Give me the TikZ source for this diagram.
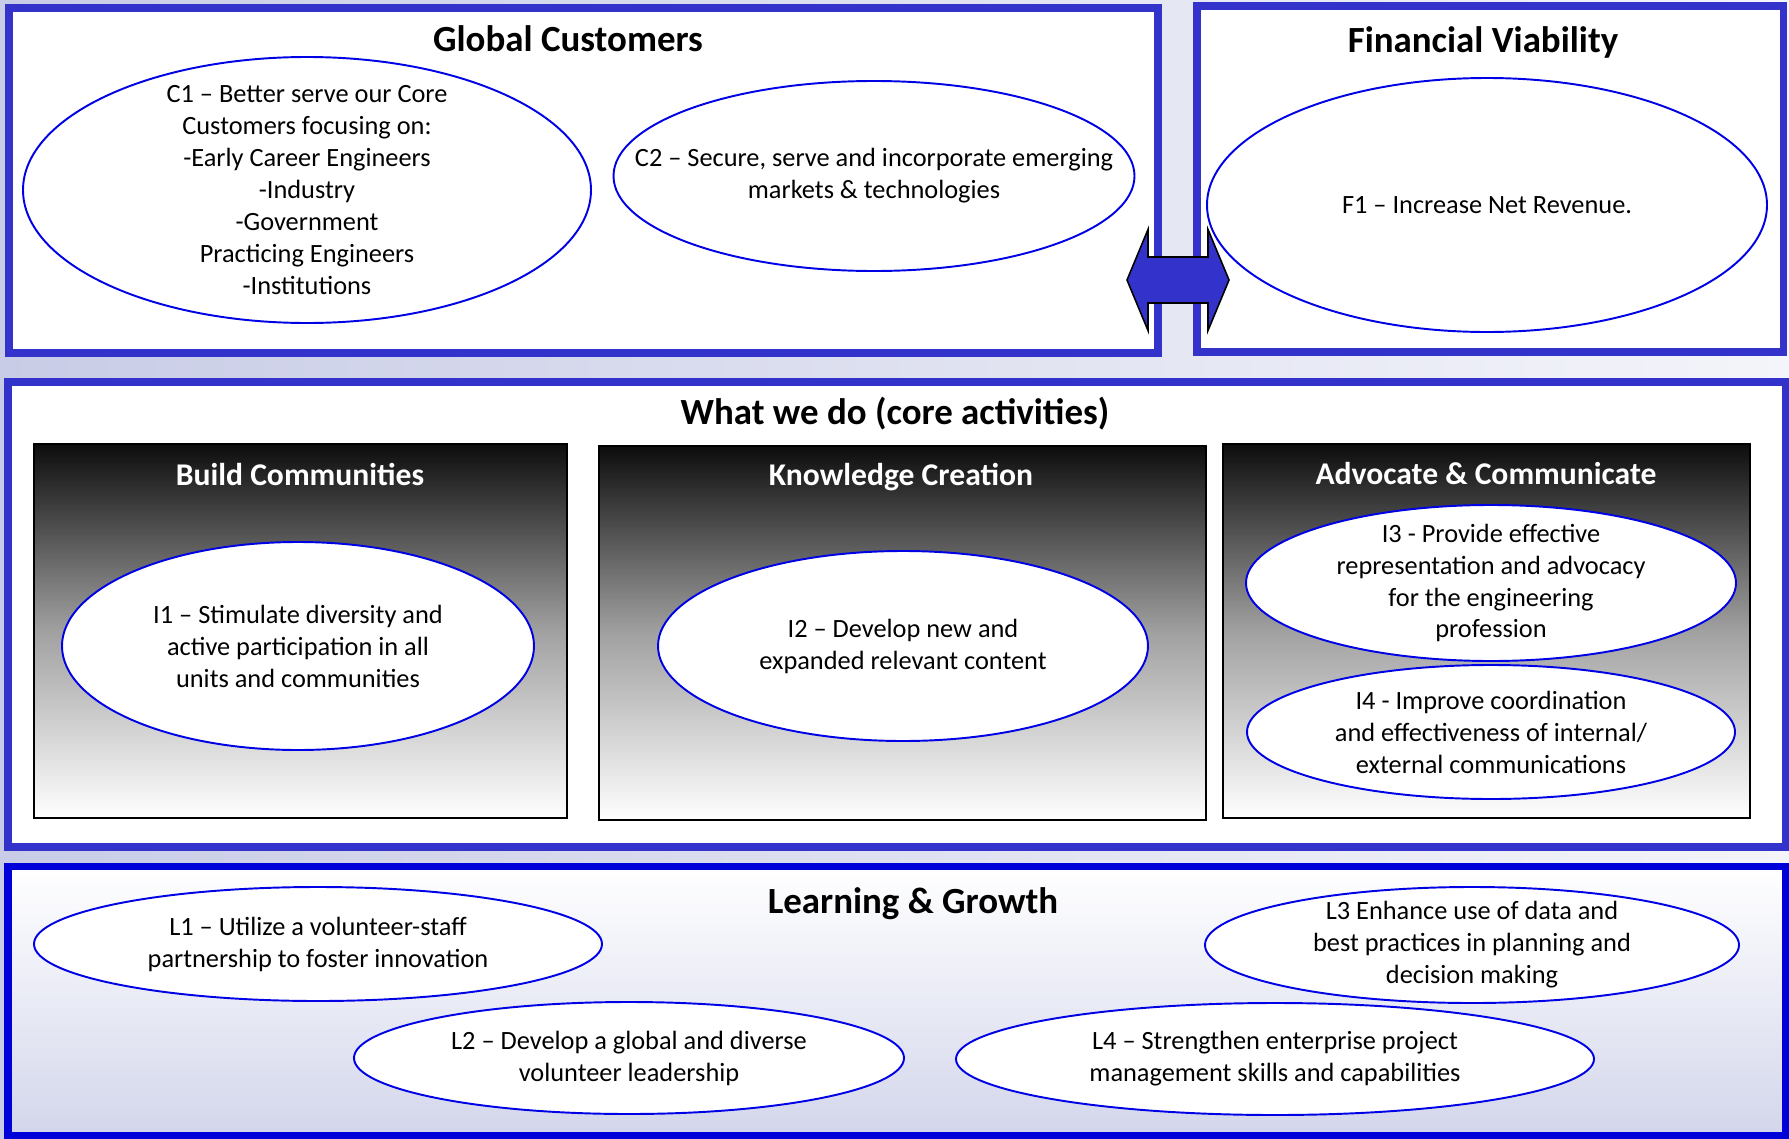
\documentclass[tikz,border=0pt]{standalone}
\usepackage{fontspec}
\setmainfont{Carlito}
\usetikzlibrary{positioning,shapes.geometric}
\definecolor{panelblue}{RGB}{51,51,204}
\definecolor{ovalblue}{RGB}{0,0,230}
\definecolor{haze}{RGB}{200,204,230}
\tikzset{
  dims/.style 2 args={minimum width=#1*0.02cm,minimum height=#2*0.02cm},
  panel/.style={draw=panelblue,line width=4pt,rectangle,inner sep=0pt},
  column/.style={draw=black,line width=1.1pt,rectangle,inner sep=0pt,
    top color=black!95,bottom color=white,middle color=black!37},
  oval/.style={ellipse,draw=ovalblue,line width=1.1pt,fill=white,align=center,
    inner sep=-2cm,font=\fontsize{15}{18.2}\selectfont},
  hd/.style={font=\bfseries\fontsize{21}{25}\selectfont},
  colhd/.style={text=white,font=\bfseries\fontsize{18}{22}\selectfont},
  dbl/.style={fill=panelblue,draw=black,line width=0.9pt,line join=miter}
}
\begin{document}
\begin{tikzpicture}[x=0.02cm,y=-0.02cm]
\useasboundingbox (0,0) rectangle (1789,1139);
\fill[left color=haze,right color=haze!20] (0,0) rectangle (1789,1139);
% the four panels
\node (gc) [panel,fill=white,dims={1149}{345}] at (583.5,180.5) {};
\node (fv) [panel,fill=white,dims={586}{346}] at (1490,179) {};
\node (core) [panel,fill=white,dims={1777}{465}] at (896.5,614.5) {};
\node (lg) [panel,draw=blue!85!black,top color=white,bottom color=haze!80,dims={1777}{269}] at (896.5,1001) {};
\node (gct) [hd] at (568,39) {Global Customers};
\node (fvt) [hd] at (1483,42) {Financial Viability};
\node (coret) [hd] at (895,414) {What we do (core activities)};
\node (lgt) [hd] at (913,904) {Learning \& Growth};
% customers / finance
\node (c1) [oval,dims={568}{266}] at (307,190) {C1 – Better serve our Core\\Customers focusing on:\\-Early Career Engineers\\-Industry\\-Government\\Practicing Engineers\\-Institutions};
\node (c2) [oval,dims={521}{190}] at (874,176) {C2 – Secure, serve and incorporate emerging\\markets \& technologies};
\node (f1) [oval,dims={560}{254}] at (1487,205) {F1 – Increase Net Revenue.};
\coordinate (lk) at (1177.5,280);
\draw[dbl] (lk) ++(-50.5,0) -- ++(21,-50.5) -- ++(0,27.5) -- ++(60,0) -- ++(0,-27.5)
  -- ++(21,50.5) -- ++(-21,50.5) -- ++(0,-27.5) -- ++(-60,0) -- ++(0,27.5) -- cycle;
% core activities
\node (bc) [column,dims={533}{374}] at (300.5,631) {};
\node (kc) [column,dims={607}{374}] at (902.5,633) {};
\node (ac) [column,dims={527}{374}] at (1486.5,631) {};
\node (bct) [colhd] at (300,474) {Build Communities};
\node (kct) [colhd] at (901,477) {Knowledge Creation};
\node (act) [colhd] at (1486,474) {Advocate \& Communicate};
\node (i1) [oval,dims={472}{208}] at (298,646) {I1 – Stimulate diversity and\\active participation in all\\units and communities};
\node (i2) [oval,dims={490}{190}] at (903,646) {I2 – Develop new and\\expanded relevant content};
\node (i3) [oval,dims={490}{156}] at (1491,583) {I3 - Provide effective\\representation and advocacy\\for the engineering\\profession};
\node (i4) [oval,dims={488}{134}] at (1491,732) {I4 - Improve coordination\\and effectiveness of internal/\\external communications};
% learning and growth
\node (l1) [oval,dims={568}{114}] at (318,944) {L1 – Utilize a volunteer-staff\\partnership to foster innovation};
\node (l2) [oval,dims={550}{112}] at (629,1058) {L2 – Develop a global and diverse\\volunteer leadership};
\node (l3) [oval,dims={534}{116}] at (1472,945) {L3 Enhance use of data and\\best practices in planning and\\decision making};
\node (l4) [oval,dims={638}{112}] at (1275,1059) {L4 – Strengthen enterprise project\\management skills and capabilities};
\end{tikzpicture}
\end{document}
